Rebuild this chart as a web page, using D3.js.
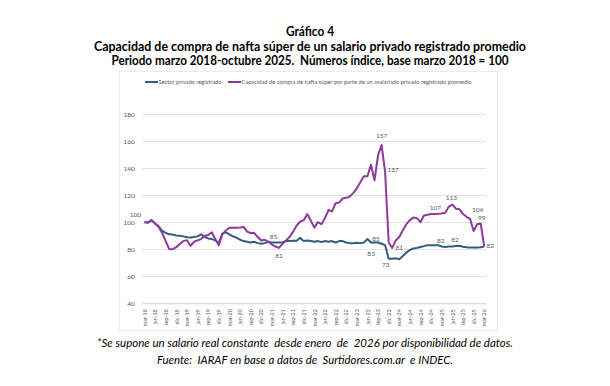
<!DOCTYPE html>
<html>
<head>
<meta charset="utf-8">
<script src="https://cdn.jsdelivr.net/npm/d3@7"></script>
<style>
  body { margin: 0; background: #fff; }
  svg { display: block; font-family: Lato, "Open Sans", sans-serif; }
  .tick text { fill: #595959; }
</style>
</head>
<body>
<svg id="chart" width="610" height="386"></svg>
<script>
// months mar-18 .. mar-26
var monthNames = ["ene", "feb", "mar", "abr", "may", "jun", "jul", "ago", "sep", "oct", "nov", "dic"];
var months = [];
for (var i = 0; i < 97; i++) {
    var m = (2 + i) % 12, y = 18 + Math.floor((2 + i) / 12);
    months.push(monthNames[m] + "-" + y);
}

var privado = [
    100, 100, 101.5, 99, 97, 93.5, 92, 91, 90.8, 90.2, 90, 89.5,
    88.8, 88.7, 89, 89.5, 91, 89, 88, 87.5, 86.5, 84.5, 91.5, 92.5,
    91, 89.5, 88.5, 87, 86, 85.5, 85, 85.5, 84.5, 84, 84.5, 85.5,
    85, 85, 85, 85, 86, 86, 86.3, 86.3, 88.5, 86, 86.5, 86,
    85.5, 86, 85.3, 86, 85.5, 86, 85, 86, 86, 85, 84.5, 84.5,
    84.7, 84.5, 85, 87.5, 85, 85, 85, 84, 83, 73, 73, 73.3,
    72.6, 75, 77.5, 79.5, 80.5, 81, 81.7, 82.3, 83, 83, 83, 83,
    82, 81.7, 82, 82, 82.3, 82.5, 81.8, 81.5, 81.3, 81.2, 81.2, 81.4,
    82
];

var nafta = [
    100, 99.5, 101.5, 99, 96.5, 92, 86, 80, 80, 81.5, 84, 86,
    86.7, 82.5, 85.5, 86.5, 87.5, 90, 90.5, 92.5, 87.5, 83, 91, 94,
    95.8, 95.8, 95.8, 96, 96.5, 93, 92, 92, 89, 86.5, 87, 85.5,
    83.5, 82, 81, 84, 86.5, 89, 93, 97.5, 100.5, 101.5, 106, 101,
    96, 100, 98.5, 103, 109, 108, 114, 114.5, 117.5, 118, 119, 121.5,
    125, 129.5, 134, 134, 142.5, 131, 149.5, 157, 137, 85, 81, 86.5,
    89, 94, 98.5, 101.5, 103.5, 103, 100, 105, 105.5, 106, 106, 106.2,
    106.5, 107, 111.5, 113, 110, 109.5, 106, 104, 102.5, 93.5, 98.5, 99,
    82
];

var yTicks = [40, 60, 80, 100, 120, 140, 160, 180];

var seriesNames = ["Sector privado registrado",
    "Capacidad de compra de nafta súper por parte de un asalariado privado registrado promedio"];

// which points carry a data label: [series, month index]
var labelPoints = [
    ["nafta", 0], ["privado", 37], ["nafta", 38], ["nafta", 67], ["nafta", 68],
    ["privado", 66], ["privado", 68], ["privado", 69], ["nafta", 70], ["nafta", 85],
    ["nafta", 87], ["nafta", 91], ["nafta", 95], ["privado", 84], ["privado", 88], ["nafta", 96]
];

// label offsets (layout only)
var labelOffsets = [
    [-9, -7], [-2, -6], [0, 8], [0, -9], [8, -2],
    [-2, -4], [-14, 9], [-3, 6], [7, 0], [-10, -5],
    [-1, -7], [11, -7], [1, -6], [-1, -6], [-1, -6], [6, -1]
];

var colors = {privado: "#2e5f7f", nafta: "#8c3a9b"};
var seriesData = {privado: privado, nafta: nafta};

var svg = d3.select("#chart");
svg.append("rect").attr("width", 610).attr("height", 386).attr("fill", "#fff");

// titles
var titles = ["Gráfico 4",
    "Capacidad de compra de nafta súper de un salario privado registrado promedio",
    "Periodo marzo 2018-octubre 2025.  Números índice, base marzo 2018 = 100"];
var titleY = [36, 51, 64.5];
var titleW = [48, 432, 397];
svg.selectAll(".title").data(titles).enter().append("text")
    .attr("class", "title")
    .attr("x", 310)
    .attr("y", function (d, i) { return titleY[i]; })
    .attr("text-anchor", "middle")
    .attr("font-size", 12.5)
    .attr("font-weight", "bold")
    .attr("fill", "#000")
    .attr("textLength", function (d, i) { return titleW[i]; })
    .attr("lengthAdjust", "spacingAndGlyphs")
    .style("white-space", "pre")
    .text(function (d) { return d; });

// chart box
svg.append("rect")
    .attr("x", 119.5).attr("y", 71.5).attr("width", 378).attr("height", 259)
    .attr("fill", "none").attr("stroke", "#ececec");

var x = d3.scalePoint().domain(d3.range(months.length)).range([142.7, 486]).padding(0.5);
var y = d3.scaleLinear().domain([40, 180]).range([303.3, 114]);

// gridlines
svg.append("g").selectAll("line").data(yTicks).enter().append("line")
    .attr("x1", 142.7).attr("x2", 486)
    .attr("y1", function (d) { return Math.round(y(d)) + 0.5; })
    .attr("y2", function (d) { return Math.round(y(d)) + 0.5; })
    .attr("stroke", "#d9d9d9").attr("stroke-width", 0.8);

var yAxis = svg.append("g")
    .attr("transform", "translate(142.7,0)")
    .call(d3.axisLeft(y).tickValues(yTicks).tickSize(0).tickPadding(8));
yAxis.select(".domain").remove();
yAxis.selectAll("text").attr("font-size", 6.5).attr("font-family", "Lato, sans-serif");

var xAxis = svg.append("g")
    .attr("transform", "translate(0,303.3)")
    .call(d3.axisBottom(x)
        .tickValues(d3.range(0, months.length, 3))
        .tickFormat(function (d) { return months[d]; })
        .tickSize(0));
xAxis.select(".domain").attr("stroke", "#d9d9d9");
xAxis.selectAll("text")
    .attr("font-size", 5.3)
    .attr("font-family", "Lato, sans-serif")
    .attr("text-anchor", "end")
    .attr("dy", "0.32em")
    .attr("transform", "translate(0,6) rotate(-90)")
    .attr("x", 0).attr("y", 0);

// lines
var line = d3.line()
    .x(function (d, i) { return x(i); })
    .y(function (d) { return y(d); });

["privado", "nafta"].forEach(function (key) {
    svg.append("path")
        .datum(seriesData[key])
        .attr("d", line)
        .attr("fill", "none")
        .attr("stroke", colors[key])
        .attr("stroke-width", 2)
        .attr("stroke-linejoin", "round");
});

// data labels
svg.append("g").selectAll("text").data(labelPoints).enter().append("text")
    .attr("x", function (d, i) { return x(d[1]) + labelOffsets[i][0]; })
    .attr("y", function (d, i) { return y(seriesData[d[0]][d[1]]) + labelOffsets[i][1]; })
    .attr("text-anchor", "middle")
    .attr("dy", "0.35em")
    .attr("font-size", 6.5)
    .attr("fill", "#595959")
    .text(function (d) { return Math.round(seriesData[d[0]][d[1]]); });

// legend
var legend = svg.append("g").attr("transform", "translate(145,82)");
var legX = [0, 83];
var legW = [63, 230];
seriesNames.forEach(function (name, i) {
    var key = i === 0 ? "privado" : "nafta";
    legend.append("line")
        .attr("x1", legX[i]).attr("x2", legX[i] + 13)
        .attr("y1", 0).attr("y2", 0)
        .attr("stroke", colors[key]).attr("stroke-width", 2);
    legend.append("text")
        .attr("x", legX[i] + 13.5).attr("y", 0).attr("dy", "0.35em")
        .attr("font-size", 5.6).attr("fill", "#595959")
        .attr("textLength", legW[i])
        .attr("lengthAdjust", "spacingAndGlyphs")
        .text(name);
});

// footnotes
var notes = ["*Se supone un salario real constante  desde enero  de  2026 por disponibilidad de datos.",
    "Fuente:  IARAF en base a datos de  Surtidores.com.ar  e INDEC."];
var noteY = [347, 364];
var noteW = [416, 296];
svg.selectAll(".note").data(notes).enter().append("text")
    .attr("class", "note")
    .attr("x", 305)
    .attr("y", function (d, i) { return noteY[i]; })
    .attr("text-anchor", "middle")
    .attr("font-size", 11.5)
    .attr("font-style", "italic")
    .attr("fill", "#000")
    .attr("textLength", function (d, i) { return noteW[i]; })
    .attr("lengthAdjust", "spacingAndGlyphs")
    .style("white-space", "pre")
    .text(function (d) { return d; });
</script>
</body>
</html>
